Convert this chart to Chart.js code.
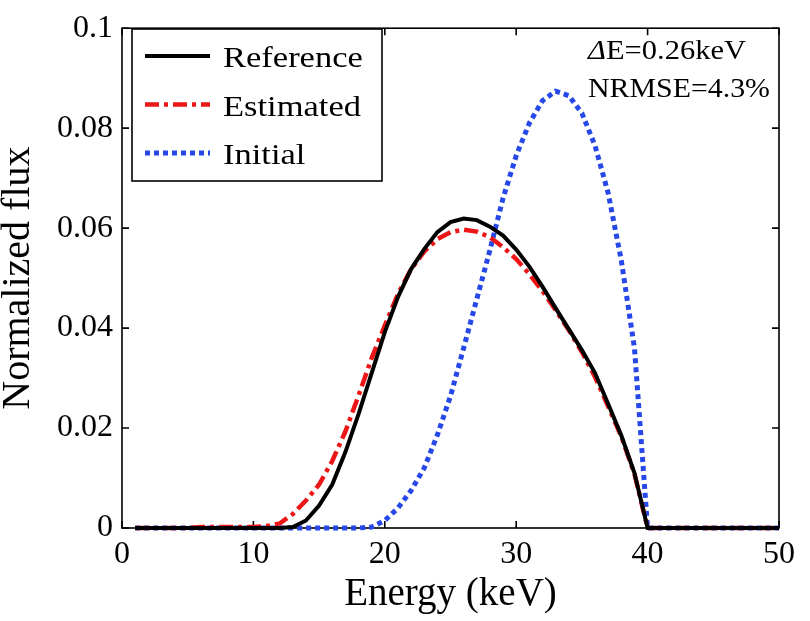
<!DOCTYPE html>
<html>
<head>
<meta charset="utf-8">
<script src="https://cdn.jsdelivr.net/npm/chart.js@4.4.0/dist/chart.umd.min.js"></script>
<style>
  html, body { margin: 0; padding: 0; background: #fff; }
  #wrap { width: 810px; height: 621px; }
</style>
</head>
<body>
<div id="wrap"><canvas id="chart"></canvas></div>
<script>
// energy grid (keV)
const energy = [1,2,3,4,5,6,7,8,9,10,11,12,13,14,15,16,17,18,19,20,21,22,23,24,25,
  26,27,28,29,30,31,32,33,34,35,36,37,38,39,40,41,42,43,44,45,46,47,48,49,50];

const reference = [0,0,0,0,0,0,0,0,0,0,0,0,
  0.0002,0.0015,0.0045,0.0087,0.0152,0.0228,0.0310,0.0392,0.0462,0.0518,0.0558,0.0592,
  0.0612,0.0619,0.0616,0.0603,0.0585,0.0557,0.0523,0.0483,0.0440,0.0398,0.0356,0.0310,
  0.0248,0.0185,0.0110,0,
  0,0,0,0,0,0,0,0,0,0];

const estimated = [0,0,0,0,0,0.0002,0.0002,0.0002,0.0002,0.0002,0.0004,0.0009,
  0.0028,0.0055,0.0087,0.0134,0.0193,0.0265,0.0340,0.0405,0.0468,0.0518,0.0553,0.0578,
  0.0592,0.0597,0.0593,0.0582,0.0562,0.0538,0.0508,0.0474,0.0436,0.0396,0.0352,0.0302,
  0.0243,0.0183,0.0108,0,
  0,0,0,0,0,0,0,0,0,0];

const initial = [0,0,0,0,0,0,0,0,0,0,0,0,0,0,0,0,0,0,0.0002,
  0.0015,0.0040,0.0075,0.0120,0.0186,0.0264,0.0360,0.0458,0.0556,0.0660,0.0745,
  0.0810,0.0855,0.0874,0.0865,0.0830,0.0765,0.0670,0.0535,0.0360,0,
  0,0,0,0,0,0,0,0,0,0];

const xTicks = [0, 10, 20, 30, 40, 50];
const yTicks = [0, 0.02, 0.04, 0.06, 0.08, 0.1];
const yTickLabels = ['0', '0.02', '0.04', '0.06', '0.08', '0.1'];

const serif = '"Liberation Serif", "Times New Roman", serif';

function pts(values) {
  return energy.map((e, i) => ({ x: e, y: values[i] }));
}

// box + inward tick marks, matlab style
const frame = {
  id: 'frame',
  beforeDatasetsDraw(chart) {
    const { ctx, chartArea: a, scales: { x, y } } = chart;
    ctx.save();
    ctx.strokeStyle = '#000';
    ctx.lineWidth = 1.6;
    ctx.strokeRect(a.left, a.top, a.right - a.left, a.bottom - a.top);
    ctx.beginPath();
    xTicks.forEach(v => {
      const px = x.getPixelForValue(v);
      ctx.moveTo(px, a.bottom); ctx.lineTo(px, a.bottom - 7);
      ctx.moveTo(px, a.top); ctx.lineTo(px, a.top + 7);
    });
    yTicks.forEach(v => {
      const py = y.getPixelForValue(v);
      ctx.moveTo(a.left, py); ctx.lineTo(a.left + 7, py);
      ctx.moveTo(a.right, py); ctx.lineTo(a.right - 7, py);
    });
    ctx.stroke();
    ctx.restore();
  }
};

// draw a string squeezed/stretched to a given width
function fitText(ctx, parts, x, y, width) {
  let total = 0;
  parts.forEach(p => { ctx.font = p.font; total += ctx.measureText(p.text).width; });
  ctx.save();
  ctx.translate(x, y);
  ctx.scale(width / total, 1);
  let cx = 0;
  parts.forEach(p => {
    ctx.font = p.font;
    ctx.fillText(p.text, cx, 0);
    cx += ctx.measureText(p.text).width;
  });
  ctx.restore();
}

const legendAndNote = {
  id: 'legendAndNote',
  afterDraw(chart) {
    const ctx = chart.ctx;
    ctx.save();
    ctx.fillStyle = '#fff';
    ctx.fillRect(132, 29, 250, 152);
    ctx.strokeStyle = '#000';
    ctx.lineWidth = 1.6;
    ctx.strokeRect(132, 29, 250, 152);
    chart.data.datasets.forEach((ds, i) => {
      const ly = 56 + i * 48.5;
      ctx.beginPath();
      ctx.setLineDash(ds.borderDash || []);
      ctx.lineWidth = ds.borderWidth;
      ctx.strokeStyle = ds.borderColor;
      ctx.moveTo(145, ly);
      ctx.lineTo(210, ly);
      ctx.stroke();
      ctx.setLineDash([]);
      ctx.save();
      ctx.translate(223, ly + 11);
      ctx.scale(1.15, 1);
      ctx.fillStyle = '#000';
      ctx.font = '30px ' + serif;
      ctx.fillText(ds.label, 0, 0);
      ctx.restore();
    });

    // fit info
    ctx.fillStyle = '#000';
    fitText(ctx, [
      { text: '\u0394', font: 'italic 27px ' + serif },
      { text: 'E=0.26keV', font: '27px ' + serif }
    ], 588, 59, 158);
    fitText(ctx, [{ text: 'NRMSE=4.3%', font: '27px ' + serif }], 588, 97, 182);
    ctx.restore();
  }
};

new Chart(document.getElementById('chart'), {
  type: 'line',
  data: {
    datasets: [
      {
        label: 'Reference',
        data: pts(reference),
        borderColor: '#000000',
        borderWidth: 4,
        borderDash: [],
        pointRadius: 0,
        tension: 0,
        clip: false
      },
      {
        label: 'Estimated',
        data: pts(estimated),
        borderColor: 'rgb(236, 22, 22)',
        borderWidth: 4.5,
        borderDash: [14, 5, 4, 5],
        pointRadius: 0,
        tension: 0,
        clip: false
      },
      {
        label: 'Initial',
        data: pts(initial),
        borderColor: 'rgb(38, 72, 232)',
        borderWidth: 5,
        borderDash: [5, 4],
        pointRadius: 0,
        tension: 0,
        clip: false
      }
    ]
  },
  options: {
    responsive: true,
    maintainAspectRatio: false,
    animation: false,
    layout: { padding: { top: 16, right: 31, left: 0, bottom: 0 } },
    plugins: {
      legend: { display: false },
      tooltip: { enabled: false }
    },
    scales: {
      x: {
        type: 'linear',
        min: 0,
        max: 50,
        afterBuildTicks: s => { s.ticks = xTicks.map(v => ({ value: v })); },
        afterFit: s => { s.height = 93; },
        grid: { display: false, drawTicks: false },
        border: { display: false },
        ticks: {
          color: '#000',
          padding: 7,
          maxRotation: 0,
          font: { family: serif, size: 32 }
        },
        title: {
          display: true,
          text: 'Energy (keV)',
          color: '#000',
          font: { family: serif, size: 39, lineHeight: 1 },
          padding: { top: 0, bottom: 7 }
        }
      },
      y: {
        type: 'linear',
        min: 0,
        max: 0.1,
        afterBuildTicks: s => { s.ticks = yTicks.map(v => ({ value: v })); },
        afterFit: s => { s.width = 122; },
        grid: { display: false, drawTicks: false },
        border: { display: false },
        ticks: {
          color: '#000',
          padding: 9,
          font: { family: serif, size: 32 },
          callback: (v, i) => yTickLabels[i]
        },
        title: {
          display: true,
          text: 'Normalized flux',
          color: '#000',
          font: { family: serif, size: 40, lineHeight: 1 },
          padding: { top: -2, bottom: 0 }
        }
      }
    }
  },
  plugins: [frame, legendAndNote]
});
</script>
</body>
</html>
